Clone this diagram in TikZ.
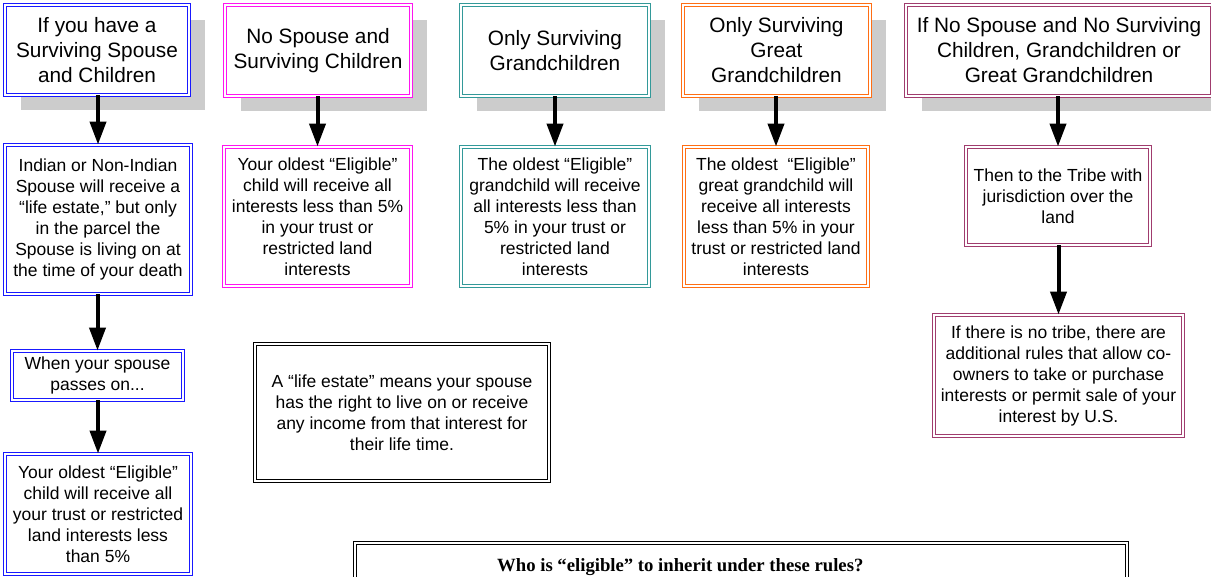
\documentclass[tikz,border=0pt]{standalone}
\usepackage{fontspec}
\setmainfont{Liberation Sans}
\newfontfamily\serifbold{Liberation Serif}
\usetikzlibrary{arrows.meta,shadows}
\definecolor{cblue}{RGB}{25,25,255}
\definecolor{cmag}{RGB}{255,20,240}
\definecolor{cteal}{RGB}{51,153,153}
\definecolor{corange}{RGB}{255,110,20}
\definecolor{cpurple}{RGB}{160,60,110}
\definecolor{shadowgray}{RGB}{204,204,204}
\begin{document}
\begin{tikzpicture}[x=1pt,y=-1pt,
  box/.style={draw=#1, double=white, line width=0.9pt, double distance=1.8pt, fill=white, align=center, inner sep=0pt},
  blackbox/.style={draw=black, double=white, line width=1.1pt, double distance=1.6pt, fill=white, align=center, inner sep=0pt},
  shad/.style={drop shadow={shadow xshift=16pt, shadow yshift=-15pt, fill=shadowgray, opacity=1}},
  title/.style={font=\fontsize{20.8}{25}\selectfont},
  body/.style={font=\fontsize{17.5}{21}\selectfont},
  arr/.style={line width=4pt, -{Triangle[length=23pt,width=16pt]}}]
\useasboundingbox (0,0) rectangle (1211,577);
\clip (0,0) rectangle (1211,577);
\fill[white] (0,0) rectangle (1211,577);

% top row
\node[box=cblue, shad, title, minimum width=184pt, minimum height=90pt] (b1) at (97,50) {If you have a\\Surviving Spouse\\and Children};
\node[box=cmag, shad, title, minimum width=186pt, minimum height=91pt] (b2) at (318,50.5) {No Spouse and\\Surviving Children};
\node[box=cteal, shad, title, minimum width=188pt, minimum height=91pt] (b3) at (555,50.5) {Only Surviving\\Grandchildren};
\node[box=corange, shad, title, minimum width=187pt, minimum height=91pt] (b4) at (776.5,50.5) {Only Surviving\\Great\\Grandchildren};
\node[box=cpurple, shad, title, minimum width=306pt, minimum height=91pt] (b5) at (1059,50.5) {If No Spouse and No Surviving\\Children, Grandchildren or\\Great Grandchildren};

% second row
\node[box=cblue, body, minimum width=186pt, minimum height=149pt] (c1) at (98,219.5) {Indian or Non-Indian\\Spouse will receive a\\“life estate,” but only\\in the parcel the\\Spouse is living on at\\the time of your death};
\node[box=cmag, body, minimum width=187pt, minimum height=139pt] (c2) at (317.5,216.5) {Your oldest “Eligible”\\child will receive all\\interests less than 5\%\\in your trust or\\restricted land\\interests};
\node[box=cteal, body, minimum width=188pt, minimum height=139pt] (c3) at (555,216.5) {The oldest “Eligible”\\grandchild will receive\\all interests less than\\5\% in your trust or\\restricted land\\interests};
\node[box=corange, body, minimum width=184pt, minimum height=139pt] (c4) at (776,216.5) {The oldest~ “Eligible”\\great grandchild will\\receive all interests\\less than 5\% in your\\trust or restricted land\\interests};
\node[box=cpurple, body, minimum width=184pt, minimum height=98pt] (c5) at (1058,196) {Then to the Tribe with\\jurisdiction over the\\land};

% lower nodes
\node[box=cblue, body, minimum width=171pt, minimum height=49pt] (d1) at (97.5,375.5) {When your spouse\\passes on...};
\node[box=cblue, body, minimum width=186pt, minimum height=120pt] (e1) at (98,514) {Your oldest “Eligible”\\child will receive all\\your trust or restricted\\land interests less\\than 5\%};
\node[box=cpurple, body, minimum width=249pt, minimum height=121pt] (d5) at (1058.5,375.5) {If there is no tribe, there are\\additional rules that allow co-\\owners to take or purchase\\interests or permit sale of your\\interest by U.S.};

\node[blackbox, body, minimum width=294pt, minimum height=137pt] (life) at (402,412.5) {A “life estate” means your spouse\\has the right to live on or receive\\any income from that interest for\\their life time.};

\node[blackbox, minimum width=772pt, minimum height=94pt] (bot) at (741,590) {};
\node[font=\serifbold\bfseries\fontsize{18.7}{22}\selectfont, anchor=base west, inner sep=0pt] (qtext) at (497,571) {Who is “eligible” to inherit under these rules?};

% arrows
\draw[arr] (b1.south -| c1.north) -- (c1.north);
\draw[arr] (b2.south -| c2.north) -- (c2.north);
\draw[arr] (b3.south -| c3.north) -- (c3.north);
\draw[arr] (b4.south -| c4.north) -- (c4.north);
\draw[arr] (b5.south -| c5.north) -- (c5.north);
\draw[arr] (c1.south -| d1.north) -- (d1.north);
\draw[arr] (d1.south -| e1.north) -- (e1.north);
\draw[arr] (c5.south -| d5.north) -- (d5.north);
\end{tikzpicture}
\end{document}
